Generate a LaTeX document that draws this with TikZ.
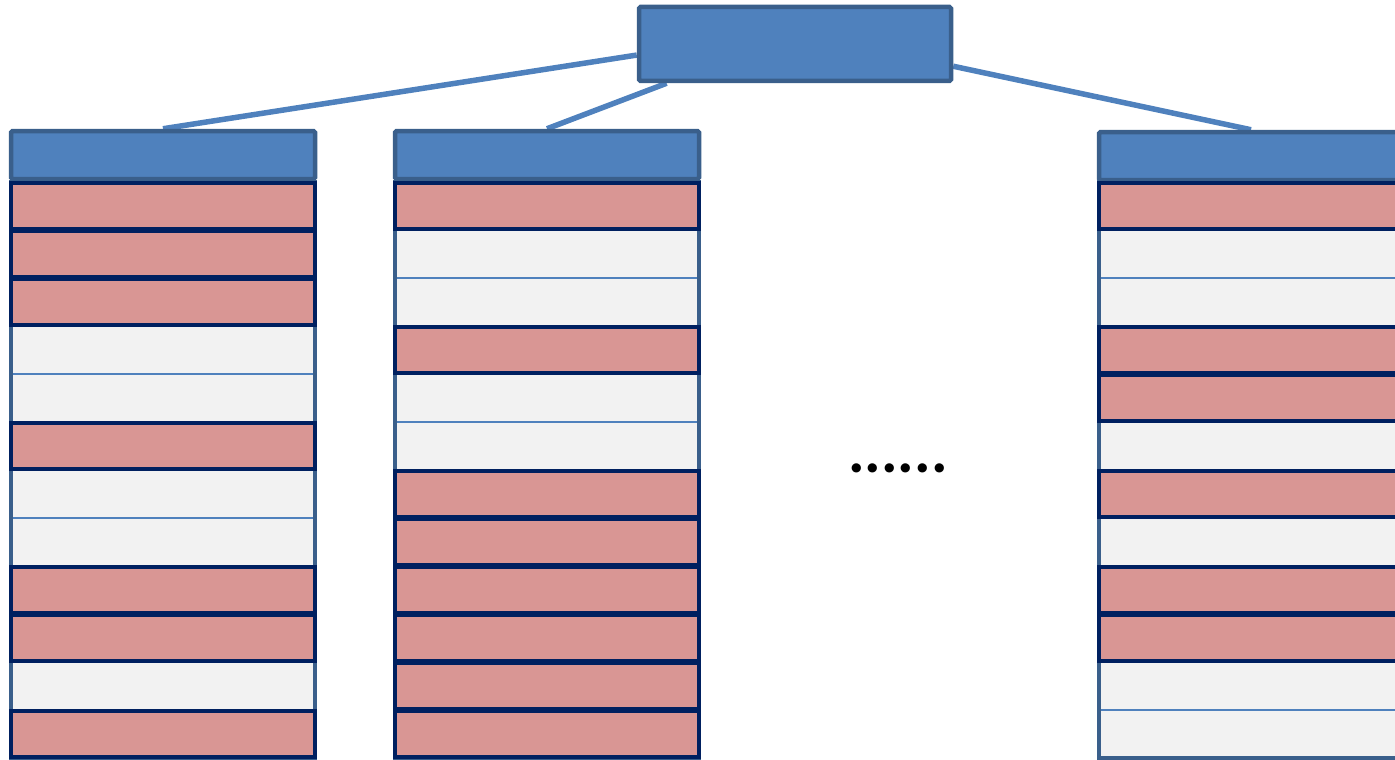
\documentclass[tikz,border=0pt]{standalone}
\usepackage{fontspec}
\newfontfamily\dotfont{Carlito}
\usetikzlibrary{positioning}
\pgfdeclarelayer{background}
\pgfsetlayers{background,main}
\definecolor{boxblue}{HTML}{4F81BD}
\definecolor{edgeblue}{HTML}{3A5F8B}
\definecolor{rowred}{HTML}{D99694}
\definecolor{navy}{HTML}{002060}
\definecolor{rowgray}{HTML}{F2F2F2}
\tikzset{
  head/.style={draw=edgeblue, fill=boxblue, line width=4.5pt, rounded corners=1.5pt,
    minimum width=304pt, minimum height=48pt, inner sep=0pt},
  root/.style={head, minimum width=312pt, minimum height=74pt},
  hot/.style={draw=navy, fill=rowred, line width=4.5pt,
    minimum width=304pt, minimum height=46pt, inner sep=0pt},
  cold/.style={draw=boxblue, fill=rowgray, line width=1.3pt,
    minimum width=304pt, minimum height=48pt, inner sep=0pt},
  frame/.style={draw=edgeblue, line width=3.5pt,
    minimum width=304pt, minimum height=576pt, inner sep=0pt},
  link/.style={draw=boxblue, line width=5.5pt},
}
\begin{document}
\begin{tikzpicture}[x=1pt,y=-1pt]
\useasboundingbox (0,0) rectangle (1395,760);

\node[root] (R) at (795,44) {};
\node[head] (H1) at (163,155) {};
\node[head] (H2) at (547,155) {};
\node[head] (H3) at (1251,156) {};

% columns of rows: 1 = hot, 0 = cold
\foreach \c/\x/\rows in {1/163/{1,1,1,0,0,1,0,0,1,1,0,1},
                         2/547/{1,0,0,1,0,0,1,1,1,1,1,1},
                         3/1251/{1,0,0,1,1,0,1,0,1,1,0,0}}{
  \foreach \r [count=\i] in \rows {
    \ifnum\r=0
      \node[cold] (c\c r\i) at (\x,{182+48*(\i-0.5)}) {};
    \fi
  }
  \node[frame] (col\c) at (\x,470) {};
  \foreach \r [count=\i] in \rows {
    \ifnum\r=1
      \node[hot] (c\c r\i) at (\x,{182+48*(\i-0.5)}) {};
    \fi
  }
}

\begin{pgfonlayer}{background}
\path[link] (R.184) edge (H1.north);
\path[link] (R.197) edge (H2.north);
\path[link] (R.-8) edge (H3.north);
\end{pgfonlayer}

\node[anchor=base, font=\dotfont\bfseries\fontsize{62}{62}\selectfont, inner sep=0pt] (dots) at (898,472.5) {......};
\end{tikzpicture}
\end{document}
